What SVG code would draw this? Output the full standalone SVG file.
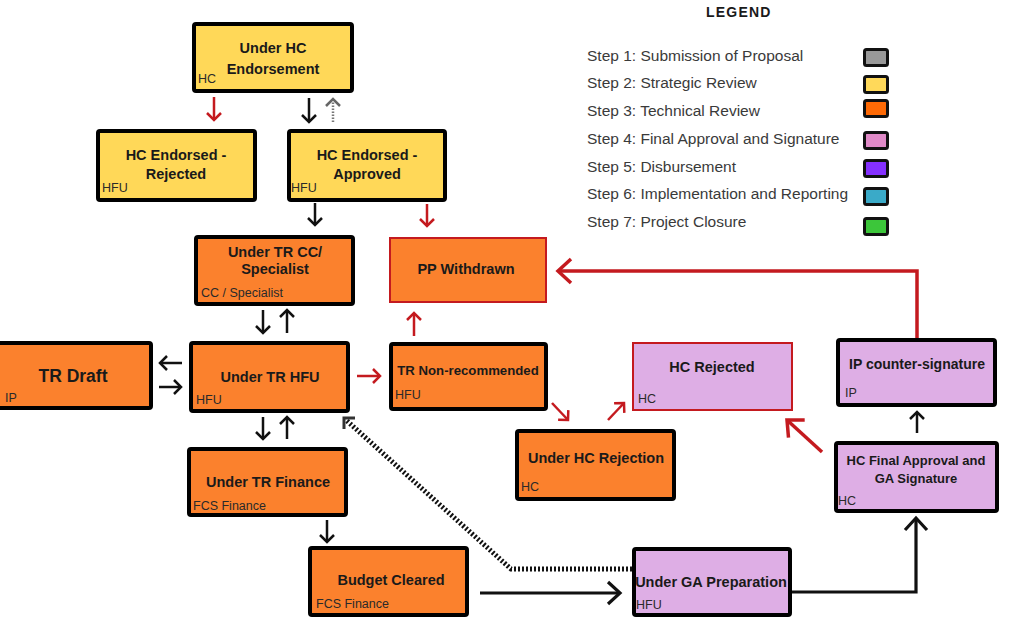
<svg xmlns="http://www.w3.org/2000/svg" width="1011" height="627" viewBox="0 0 1011 627">
<style>
.bg{fill:#ffffff}
.node rect{stroke:#000;stroke-width:4}
.y{fill:#FFD858}
.o{fill:#FB812D}
.p{fill:#DEAEE5}
.node rect.red{stroke:#C41A1F;stroke-width:2}
.t{font-family:"Liberation Sans",Arial,sans-serif;font-weight:bold;font-size:14.5px;fill:#1a1a1a;text-anchor:middle}
.s{font-family:"Liberation Sans",Arial,sans-serif;font-size:12.5px;fill:#2a2a2a}
.lg{font-family:"Liberation Sans",Arial,sans-serif;font-size:15.5px;fill:#3a3a3a}
.lt{font-family:"Liberation Sans",Arial,sans-serif;font-size:14px;font-weight:bold;fill:#1a1a1a;letter-spacing:1.2px}
.sw{stroke:#111;stroke-width:3}
.a{fill:none;stroke:#111;stroke-width:2.5}
.ar{fill:none;stroke:#C41A1F;stroke-width:2.5}
.big{fill:none;stroke:#111;stroke-width:3.2}
.bigr{fill:none;stroke:#C41A1F;stroke-width:3.5}
</style>
<defs>
<marker id="hb" viewBox="-9 -9 11 18" refX="0" refY="0" markerWidth="11" markerHeight="18" orient="auto" markerUnits="userSpaceOnUse" overflow="visible">
<path d="M-7,-7 L0,0 L-7,7" fill="none" stroke="#111" stroke-width="2.5"/>
</marker>
<marker id="hr" viewBox="-9 -9 11 18" refX="0" refY="0" markerWidth="11" markerHeight="18" orient="auto" markerUnits="userSpaceOnUse" overflow="visible">
<path d="M-7,-7 L0,0 L-7,7" fill="none" stroke="#C41A1F" stroke-width="2.5"/>
</marker>
<marker id="hg" viewBox="-9 -9 11 18" refX="0" refY="0" markerWidth="11" markerHeight="18" orient="auto" markerUnits="userSpaceOnUse" overflow="visible">
<path d="M-7,-7 L0,0 L-7,7" fill="none" stroke="#666" stroke-width="2.5"/>
</marker>
<marker id="Hb" viewBox="-16 -14 18 28" refX="0" refY="0" markerWidth="18" markerHeight="28" orient="auto" markerUnits="userSpaceOnUse" overflow="visible">
<path d="M-12,-11 L0,0 L-12,11" fill="none" stroke="#111" stroke-width="3.2"/>
</marker>
<marker id="Hr" viewBox="-16 -14 18 28" refX="0" refY="0" markerWidth="18" markerHeight="28" orient="auto" markerUnits="userSpaceOnUse" overflow="visible">
<path d="M-13,-12 L0,0 L-13,12" fill="none" stroke="#C41A1F" stroke-width="3.5"/>
</marker>
</defs>
<rect class="bg" x="0" y="0" width="1011" height="627"/>

<g id="legend">
<text class="lt" x="706" y="17">LEGEND</text>
<text class="lg" x="587" y="61">Step 1: Submission of Proposal</text>
<text class="lg" x="587" y="88">Step 2: Strategic Review</text>
<text class="lg" x="587" y="116">Step 3: Technical Review</text>
<text class="lg" x="587" y="144">Step 4: Final Approval and Signature</text>
<text class="lg" x="587" y="172">Step 5: Disbursement</text>
<text class="lg" x="587" y="199">Step 6: Implementation and Reporting</text>
<text class="lg" x="587" y="227">Step 7: Project Closure</text>
<rect class="sw" x="864.5" y="49.5" width="23" height="16" rx="2" fill="#999999"/>
<rect class="sw" x="864.5" y="76.5" width="23" height="16" rx="2" fill="#FFD95A"/>
<rect class="sw" x="864.5" y="100.5" width="23" height="16" rx="2" fill="#FF6A05"/>
<rect class="sw" x="864.5" y="132.5" width="23" height="16" rx="2" fill="#E08AC8"/>
<rect class="sw" x="864.5" y="160.5" width="23" height="16" rx="2" fill="#8530FF"/>
<rect class="sw" x="864.5" y="188.5" width="23" height="16" rx="2" fill="#3AAAC8"/>
<rect class="sw" x="864.5" y="218.5" width="23" height="16" rx="2" fill="#3CC63A"/>
</g>

<g id="connectors">
<line class="ar" x1="214" y1="97" x2="214" y2="120" marker-end="url(#hr)"/>
<line class="a" x1="309" y1="98" x2="309" y2="122" marker-end="url(#hb)"/>
<line x1="333" y1="122" x2="333" y2="99" stroke="#777" stroke-width="2.5" stroke-dasharray="1.5 1.5" marker-end="url(#hg)"/>
<line class="a" x1="315" y1="203" x2="315" y2="225" marker-end="url(#hb)"/>
<line class="ar" x1="427" y1="204" x2="427" y2="226" marker-end="url(#hr)"/>
<line class="a" x1="263" y1="310" x2="263" y2="333" marker-end="url(#hb)"/>
<line class="a" x1="287" y1="333" x2="287" y2="310" marker-end="url(#hb)"/>
<line class="a" x1="182" y1="363" x2="160" y2="363" marker-end="url(#hb)"/>
<line class="a" x1="159" y1="387" x2="181" y2="387" marker-end="url(#hb)"/>
<line class="ar" x1="357" y1="376" x2="380" y2="376" marker-end="url(#hr)"/>
<line class="ar" x1="414" y1="336" x2="414" y2="313" marker-end="url(#hr)"/>
<line class="ar" x1="552" y1="403" x2="568" y2="420" marker-end="url(#hr)"/>
<line class="ar" x1="608" y1="420" x2="624" y2="403" marker-end="url(#hr)"/>
<line class="a" x1="263" y1="417" x2="263" y2="439" marker-end="url(#hb)"/>
<line class="a" x1="287" y1="439" x2="287" y2="417" marker-end="url(#hb)"/>
<line class="a" x1="327" y1="520" x2="327" y2="542" marker-end="url(#hb)"/>
<line class="a" x1="917" y1="433" x2="917" y2="412" marker-end="url(#hb)"/>
<polyline class="bigr" points="917,338 917,271 558,271" marker-end="url(#Hr)"/>
<line class="bigr" x1="822" y1="452" x2="787" y2="420" marker-end="url(#Hr)"/>
<line class="big" x1="480" y1="593" x2="620" y2="593" marker-end="url(#Hb)"/>
<polyline class="big" points="783,592 916,592 916,518" marker-end="url(#Hb)"/>
<polyline points="632,569 511,569 346,420" fill="none" stroke="#111" stroke-width="5" stroke-dasharray="2 2"/>
<path d="M344,429 L344,418 L355,418" fill="none" stroke="#333" stroke-width="3"/>
</g>

<g id="n_hc_endorsement" class="node">
<rect class="y" x="194" y="24" width="158" height="67" rx="2"/>
<text class="t" x="273" y="53">Under HC</text>
<text class="t" x="273" y="74">Endorsement</text>
<text class="s" x="198" y="83">HC</text>
</g>
<g id="n_endorsed_rejected" class="node">
<rect class="y" x="98" y="131" width="157" height="69" rx="2"/>
<text class="t" x="176" y="160">HC Endorsed -</text>
<text class="t" x="176" y="179">Rejected</text>
<text class="s" x="102" y="192">HFU</text>
</g>
<g id="n_endorsed_approved" class="node">
<rect class="y" x="289" y="131" width="156" height="69" rx="2"/>
<text class="t" x="367" y="160">HC Endorsed -</text>
<text class="t" x="367" y="179">Approved</text>
<text class="s" x="291" y="192">HFU</text>
</g>
<g id="n_tr_cc" class="node">
<rect class="o" x="196" y="237" width="157" height="67" rx="2"/>
<text class="t" x="275" y="257">Under TR CC/</text>
<text class="t" x="275" y="274">Specialist</text>
<text class="s" x="201" y="297">CC / Specialist</text>
</g>
<g id="n_pp_withdrawn" class="node">
<rect class="o red" x="390" y="238" width="156" height="64"/>
<text class="t" x="466" y="274">PP Withdrawn</text>
</g>
<g id="n_tr_draft" class="node">
<rect class="o" x="-6" y="343" width="157" height="65" rx="2"/>
<text class="t" x="73" y="382" style="font-size:17.5px">TR Draft</text>
<text class="s" x="5" y="402">IP</text>
</g>
<g id="n_tr_hfu" class="node">
<rect class="o" x="191" y="343" width="157" height="68" rx="2"/>
<text class="t" x="270" y="382">Under TR HFU</text>
<text class="s" x="196" y="404">HFU</text>
</g>
<g id="n_tr_nonrec" class="node">
<rect class="o" x="391" y="344" width="155" height="65" rx="2"/>
<text class="t" x="468" y="375" style="font-size:13.2px">TR Non-recommended</text>
<text class="s" x="395" y="399">HFU</text>
</g>
<g id="n_hc_rejection" class="node">
<rect class="o" x="517" y="431" width="157" height="68" rx="2"/>
<text class="t" x="596" y="463">Under HC Rejection</text>
<text class="s" x="521" y="491">HC</text>
</g>
<g id="n_hc_rejected" class="node">
<rect class="p red" x="633" y="343" width="159" height="67"/>
<text class="t" x="712" y="372">HC Rejected</text>
<text class="s" x="638" y="403">HC</text>
</g>
<g id="n_ip_counter" class="node">
<rect class="p" x="838" y="340" width="157" height="65" rx="2"/>
<text class="t" x="917" y="369" style="font-size:14px">IP counter-signature</text>
<text class="s" x="845" y="397">IP</text>
</g>
<g id="n_hc_final" class="node">
<rect class="p" x="836" y="443" width="161" height="68" rx="2"/>
<text class="t" x="916" y="465" style="font-size:13px">HC Final Approval and</text>
<text class="t" x="916" y="483" style="font-size:13px">GA Signature</text>
<text class="s" x="838" y="505">HC</text>
</g>
<g id="n_tr_finance" class="node">
<rect class="o" x="189" y="449" width="157" height="66" rx="2"/>
<text class="t" x="268" y="487">Under TR Finance</text>
<text class="s" x="193" y="510">FCS Finance</text>
</g>
<g id="n_budget" class="node">
<rect class="o" x="310" y="548" width="157" height="67" rx="2"/>
<text class="t" x="391" y="585">Budget Cleared</text>
<text class="s" x="316" y="608">FCS Finance</text>
</g>
<g id="n_ga_prep" class="node">
<rect class="p" x="634" y="549" width="156" height="66" rx="2"/>
<text class="t" x="711" y="587">Under GA Preparation</text>
<text class="s" x="636" y="609">HFU</text>
</g>
</svg>
